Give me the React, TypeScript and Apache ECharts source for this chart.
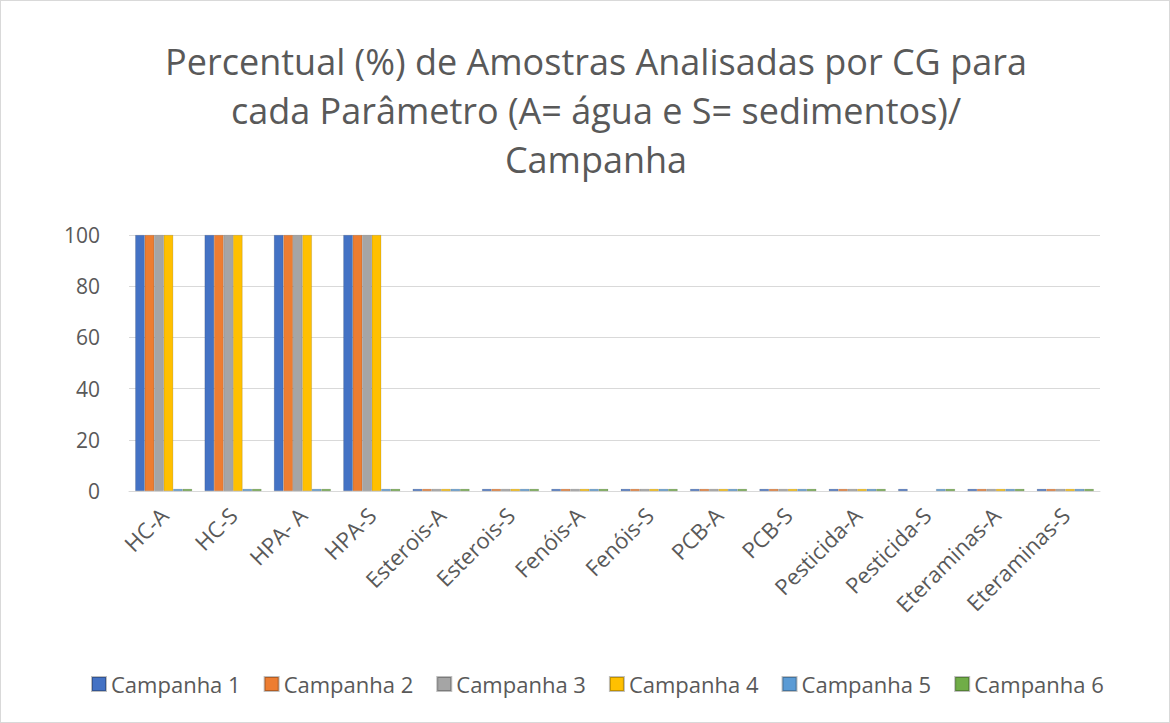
import React, { useEffect, useRef } from "react";
import * as echarts from "echarts";

const categories = [
  "HC-A", "HC-S", "HPA- A", "HPA-S", "Esterois-A", "Esterois-S", "Fenóis-A",
  "Fenóis-S", "PCB-A", "PCB-S", "Pesticida-A", "Pesticida-S", "Eteraminas-A", "Eteraminas-S",
];
const seriesNames = ["Campanha 1", "Campanha 2", "Campanha 3", "Campanha 4", "Campanha 5", "Campanha 6"];
const campanha1 = [100, 100, 100, 100, 0, 0, 0, 0, 0, 0, 0, 0, 0, 0];
const campanha2 = [100, 100, 100, 100, 0, 0, 0, 0, 0, 0, 0, null, 0, 0];
const campanha3 = [100, 100, 100, 100, 0, 0, 0, 0, 0, 0, 0, null, 0, 0];
const campanha4 = [100, 100, 100, 100, 0, 0, 0, 0, 0, 0, 0, null, 0, 0];
const campanha5 = [0, 0, 0, 0, 0, 0, 0, 0, 0, 0, 0, 0, 0, 0];
const campanha6 = [0, 0, 0, 0, 0, 0, 0, 0, 0, 0, 0, 0, 0, 0];
const seriesData = [campanha1, campanha2, campanha3, campanha4, campanha5, campanha6];
const colors = ["#4472C4", "#ED7D31", "#A5A5A5", "#FFC000", "#5B9BD5", "#70AD47"];

export default function App() {
  const ref = useRef<HTMLDivElement>(null);
  useEffect(() => {
    const chart = echarts.init(ref.current!, null, { renderer: "svg" });
    const font = "'Open Sans', 'Noto Sans', sans-serif";
    chart.setOption({
      animation: false,
      backgroundColor: "#ffffff",
      color: colors,
      title: {
        text: "Percentual (%) de Amostras Analisadas por CG para\ncada Parâmetro (A= água e S= sedimentos)/\nCampanha",
        top: 31,
        left: 590,
        textAlign: "center",
        textStyle: {
          fontFamily: font,
          fontSize: 36,
          fontWeight: "normal",
          color: "#595959",
          lineHeight: 49,
        },
      },
      legend: {
        bottom: 22,
        left: 85,
        itemWidth: 14,
        itemHeight: 14,
        itemGap: 23,
        icon: "rect",
        textStyle: { fontFamily: font, fontSize: 22, color: "#595959" },
        data: seriesNames,
      },
      grid: { left: 128, right: 69, top: 234, bottom: 231, containLabel: false },
      xAxis: {
        type: "category",
        data: categories,
        axisLine: { show: true, lineStyle: { color: "#d9d9d9", width: 1 } },
        axisTick: { show: false },
        axisLabel: {
          rotate: 45,
          interval: 0,
          fontFamily: font,
          fontSize: 22,
          color: "#595959",
          margin: 20,
        },
      },
      yAxis: {
        type: "value",
        min: 0,
        max: 100,
        interval: 20,
        axisLine: { show: false },
        axisTick: { show: false },
        axisLabel: { fontFamily: font, fontSize: 21, color: "#595959", margin: 29 },
        splitLine: { lineStyle: { color: "#d9d9d9", width: 1 } },
      },
      series: seriesNames.map((name, i) => ({
        name,
        type: "bar",
        data: seriesData[i],
        barGap: "0%",
        barCategoryGap: "18%",
        barMinHeight: 2,
        itemStyle: { color: colors[i], borderColor: "rgba(0,0,0,0.25)", borderWidth: 0.5 },
      })),
    });
    return () => chart.dispose();
  }, []);
  return (
    <div
      ref={ref}
      style={{
        position: "fixed",
        left: 0,
        top: 0,
        width: 1170,
        height: 723,
        boxSizing: "border-box",
        border: "1px solid #d9d9d9",
        background: "#fff",
      }}
    />
  );
}
